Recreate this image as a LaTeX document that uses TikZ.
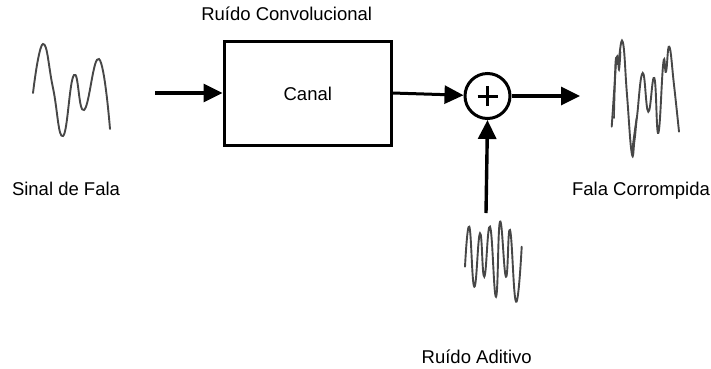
\documentclass[tikz,border=0pt]{standalone}
\usepackage{fontspec}
\setmainfont{Liberation Sans}
\usetikzlibrary{arrows.meta}

\begin{document}
\begin{tikzpicture}[x=1pt, y=-1pt,
    font=\fontsize{18.5}{22}\selectfont,
    label/.style={inner sep=0pt, anchor=base},
    seta/.style={line width=3.4pt, -{Triangle[length=19pt, width=18pt]}},
    onda/.style={line width=1.9pt, black!72, smooth, tension=0.8, line cap=round}]
  \useasboundingbox (0,0) rectangle (711,368);
  % fala limpa
  \draw[onda] plot coordinates {(33,93) (43,44) (53,88) (63,136) (74,75) (84,110) (99,59) (110,129)};
  \node[label] (sinal) at (66,195) {Sinal de Fala};
  \coordinate (ent) at (155,93);
  % canal
  \node[draw, line width=3pt, minimum width=167pt, minimum height=104pt, inner sep=0pt] (canal) at (307.5,93) {};
  \node[label] (canaltxt) at (307.8,100.7) {Canal};
  \node[label] (conv) at (286.7,20.7) {Ruído Convolucional};
  % somador
  \node[circle, draw, line width=3pt, minimum size=45pt, inner sep=0pt] (soma) at (487.5,96) {};
  \draw[line width=3pt] ([xshift=-10pt]soma.center) -- ([xshift=10pt]soma.center)
                        ([yshift=-10pt]soma.center) -- ([yshift=10pt]soma.center);
  \coordinate (saida) at (580,96);
  \coordinate (ruido) at (486,213);
  % fala corrompida
  \draw[onda] plot coordinates {(611.7,126.7) (614.5,85) (616,58) (618,64) (622.7,41.7) (627,95) (631.7,153) (634.5,140) (637,116.7) (642.7,73) (648.3,111.7) (654.3,78) (658.3,133) (663.3,63) (666,71.7) (669.3,46.7) (674,85) (679,131.7)};
  \draw[onda, line width=1.6pt] plot coordinates {(614,118) (615.5,72) (617.5,56) (619,70) (620.5,52)};
  \draw[onda, line width=1.4pt] plot coordinates {(632,150) (635,128) (636.5,118)};
  \node[label] (corr) at (641,195) {Fala Corrompida};
  % ruido aditivo
  \draw[onda] plot coordinates {(465,266.7) (469.3,226.7) (474.3,286.7) (480,233.3) (484.3,276.7) (490,226.7) (496,296.7) (500,221.7) (506,276.7) (510,230) (516,301.7) (521.7,246.7)};
  \node[label] (adit) at (476.7,363.3) {Ruído Aditivo};
  % setas
  \draw[seta] (ent) -- (canal.west);
  \draw[seta, line width=3pt] (canal.east |- 0,93) -- (soma);
  \draw[seta] (soma.east) -- (saida);
  \draw[seta] (ruido) -- (soma.south);
\end{tikzpicture}
\end{document}
